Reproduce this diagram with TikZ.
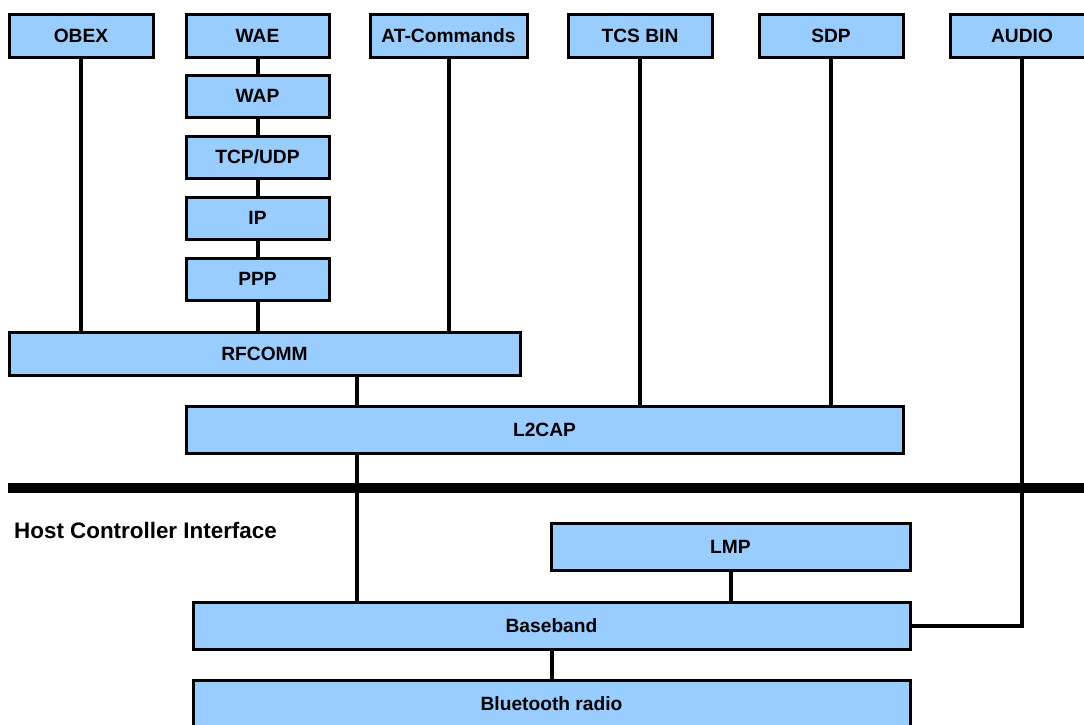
\documentclass[tikz,border=0pt]{standalone}
\usepackage{fontspec}
\setmainfont{Liberation Sans}
\definecolor{layerblue}{HTML}{99CCFF}
\tikzset{
layer/.style={draw=black,line width=3pt,fill=layerblue,inner sep=0pt,text=black,font=\fontsize{19.2}{21}\selectfont\bfseries},
link/.style={line width=4pt}
}
\begin{document}
\begin{tikzpicture}[x=1pt,y=-1pt]
\useasboundingbox(0,0)rectangle(1084,724);
\clip(0,0)rectangle(1084,724);
\pgfmathsetmacro{\topy}{35.5}
\pgfmathsetmacro{\stackx}{257.5}
\foreach \nm/\lbl/\xc/\bw in {obex/OBEX/81/144,wae/WAE/257.5/143,atcmd/AT-Commands/448.5/157,tcsbin/TCS BIN/640/144,sdp/SDP/831/144,audio/AUDIO/1022/144}{\node[layer,minimum width=\bw pt,minimum height=43pt](\nm)at(\xc,\topy){\lbl};}
\foreach \nm/\lbl/\yc in {wap/WAP/96,tcpudp/{TCP/UDP}/157,ip/IP/218,ppp/PPP/279}{\node[layer,minimum width=143pt,minimum height=42pt](\nm)at(\stackx,\yc){\lbl};}
\node[layer,minimum width=511pt,minimum height=43pt](rfcomm)at(264.5,353.5){RFCOMM};
\node[layer,minimum width=717pt,minimum height=47pt](ltwocap)at(544.5,429.5){L2CAP};
\node[layer,minimum width=359pt,minimum height=47pt](lmp)at(730.5,546.5){LMP};
\node[layer,minimum width=717pt,minimum height=47pt](baseband)at(551.5,625.5){Baseband};
\node[layer,minimum width=717pt,minimum height=47pt](radio)at(551.5,703.5){Bluetooth radio};
\coordinate(hcil)at(8,488);
\coordinate(hcir)at(1084,488);
\coordinate(tap)at(357,0);
\draw[line width=10pt](hcil)--(hcir);
\node[anchor=base west,inner sep=0pt,font=\fontsize{22.4}{25}\selectfont\bfseries](hcitext)at(14,538){Host Controller Interface};
\foreach \na/\nb in {wae/wap,wap/tcpudp,tcpudp/ip,ip/ppp,baseband/radio}{\draw[link](\na)--(\nb);}
\foreach \na/\nb in {obex/rfcomm,ppp/rfcomm,atcmd/rfcomm,tcsbin/ltwocap,sdp/ltwocap,lmp/baseband}{\draw[link](\na)--(\na|-\nb.north);}
\draw[link](tap|-rfcomm.south)--(tap|-ltwocap.north);
\draw[link](tap|-ltwocap.south)--(tap|-baseband.north);
\draw[link](audio.south)|-(baseband.east);
\end{tikzpicture}
\end{document}
